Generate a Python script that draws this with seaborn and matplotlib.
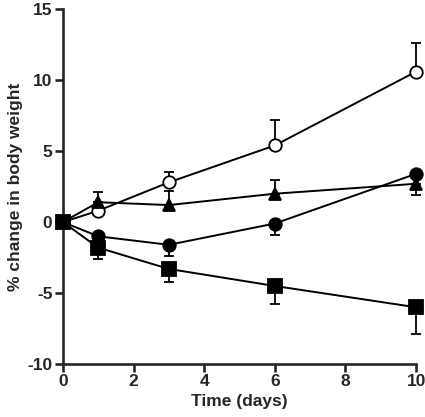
import matplotlib
matplotlib.use("Agg")
import matplotlib.pyplot as plt
import seaborn as sns
import numpy as np
import pandas as pd

days = [0, 1, 3, 6, 10]

open_circle = [0, 0.8, 2.8, 5.4, 10.6]
open_circle_err_up = [0, 0.0, 0.7, 1.8, 2.0]

triangle = [0, 1.4, 1.2, 2.0, 2.7]
triangle_err_up = [0, 0.7, 1.0, 1.0, 0]
triangle_err_down = [0, 0, 0, 0, 0.8]

filled_circle = [0, -1.0, -1.6, -0.1, 3.4]
filled_circle_err_down = [0, 0.0, 0.8, 0.8, 0.0]

square = [0, -1.8, -3.3, -4.5, -6.0]
square_err_down = [0, 0.8, 0.9, 1.3, 1.9]

x_ticks = [0, 2, 4, 6, 8, 10]
y_ticks = [-10, -5, 0, 5, 10, 15]

sns.set_style("ticks")
plt.rcParams['font.family'] = ['Liberation Sans', 'DejaVu Sans']
plt.rcParams['font.weight'] = 'bold'
plt.rcParams['axes.unicode_minus'] = False

fig = plt.figure(figsize=(4.25, 4.17), dpi=100)
ax = fig.add_axes([0.148, 0.127, 0.831, 0.851])

zeros = [0] * len(days)
series = [
    ("open", open_circle, zeros, open_circle_err_up, "o", "white", 9),
    ("triangle", triangle, triangle_err_down, triangle_err_up, "^", "black", 9),
    ("filled", filled_circle, filled_circle_err_down, zeros, "o", "black", 9),
    ("square", square, square_err_down, zeros, "s", "black", 9.5),
]

for name, vals, lo, hi, marker, face, ms in series:
    ax.errorbar(days, vals, yerr=[lo, hi], fmt="none", ecolor="black",
                elinewidth=1.3, capsize=3.5, capthick=1.3, zorder=2, clip_on=False)
    df = pd.DataFrame({"day": days, "val": vals})
    sns.lineplot(data=df, x="day", y="val", ax=ax, color="black", linewidth=1.4,
                 marker=marker, markersize=ms, markerfacecolor=face,
                 markeredgecolor="black", markeredgewidth=1.3, zorder=3,
                 clip_on=False)

ax.set_xlim(0, 10)
ax.set_ylim(-10, 15)
ax.set_xticks(x_ticks)
ax.set_yticks(y_ticks)
ax.set_xlabel("Time (days)", fontsize=12.5, fontweight="bold", labelpad=3)
ax.set_ylabel("% change in body weight", fontsize=12.5, fontweight="bold", labelpad=3)
sns.despine(ax=ax)
for s in ["left", "bottom"]:
    ax.spines[s].set_linewidth(1.9)
ax.tick_params(axis="both", width=1.9, length=5.5, labelsize=12.5, direction="out", pad=2)
for lbl in ax.get_xticklabels() + ax.get_yticklabels():
    lbl.set_fontweight("bold")

fig.savefig("out.png", dpi=100)
